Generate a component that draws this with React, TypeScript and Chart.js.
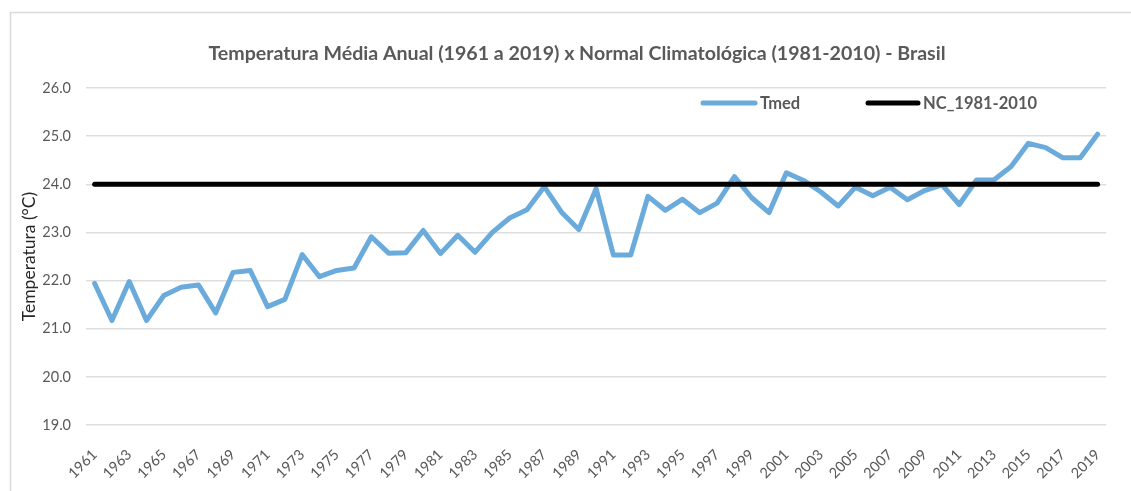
import React, { useEffect, useRef } from "react";
import { Chart, registerables } from "chart.js";

Chart.register(...registerables);

const TITLE = "Temperatura Média Anual (1961 a 2019) x Normal Climatológica (1981-2010) - Brasil";
const Y_TITLE = "Temperatura (°C)";

const YEARS = [
  "1961", "1962", "1963", "1964", "1965", "1966", "1967", "1968", "1969", "1970",
  "1971", "1972", "1973", "1974", "1975", "1976", "1977", "1978", "1979", "1980",
  "1981", "1982", "1983", "1984", "1985", "1986", "1987", "1988", "1989", "1990",
  "1991", "1992", "1993", "1994", "1995", "1996", "1997", "1998", "1999", "2000",
  "2001", "2002", "2003", "2004", "2005", "2006", "2007", "2008", "2009", "2010",
  "2011", "2012", "2013", "2014", "2015", "2016", "2017", "2018", "2019",
];

const TMED = [
  21.94, 21.17, 21.98, 21.17, 21.69, 21.86, 21.91, 21.33, 22.17, 22.21,
  21.46, 21.61, 22.54, 22.08, 22.21, 22.26, 22.91, 22.57, 22.58, 23.04,
  22.56, 22.94, 22.59, 23.0, 23.3, 23.47, 23.95, 23.42, 23.06, 23.91,
  22.53, 22.53, 23.75, 23.46, 23.69, 23.41, 23.61, 24.16, 23.72, 23.41,
  24.24, 24.08, 23.84, 23.55, 23.94, 23.76, 23.94, 23.68, 23.87, 23.99,
  23.58, 24.09, 24.09, 24.37, 24.85, 24.76, 24.55, 24.55, 25.04,
];

const NC_1981_2010 = [
  24.0, 24.0, 24.0, 24.0, 24.0, 24.0, 24.0, 24.0, 24.0, 24.0,
  24.0, 24.0, 24.0, 24.0, 24.0, 24.0, 24.0, 24.0, 24.0, 24.0,
  24.0, 24.0, 24.0, 24.0, 24.0, 24.0, 24.0, 24.0, 24.0, 24.0,
  24.0, 24.0, 24.0, 24.0, 24.0, 24.0, 24.0, 24.0, 24.0, 24.0,
  24.0, 24.0, 24.0, 24.0, 24.0, 24.0, 24.0, 24.0, 24.0, 24.0,
  24.0, 24.0, 24.0, 24.0, 24.0, 24.0, 24.0, 24.0, 24.0,
];

const SERIES_NAMES = ["Tmed", "NC_1981-2010"];
const Y_MIN = 19.0;
const Y_MAX = 26.0;
const Y_STEP = 1.0;

const FONT = "Lato, 'Open Sans', 'DejaVu Sans', sans-serif";
const BLUE = "#6aabdc";
const TEXT_GRAY = "#595959";

const frameTitleLegend = {
  id: "frameTitleLegend",
  beforeDraw(chart: any) {
    const ctx = chart.ctx;
    ctx.save();
    ctx.fillStyle = "#ffffff";
    ctx.fillRect(0, 0, chart.width, chart.height);
    ctx.strokeStyle = "#d9d9d9";
    ctx.lineWidth = 1.5;
    ctx.strokeRect(10.5, 12.5, chart.width + 20, chart.height + 20);
    ctx.restore();
  },
  afterDraw(chart: any) {
    const ctx = chart.ctx;
    ctx.save();
    ctx.font = `bold 19.6px ${FONT}`;
    ctx.fillStyle = TEXT_GRAY;
    ctx.textAlign = "center";
    ctx.textBaseline = "middle";
    ctx.fillText(TITLE, 577, 54);

    const y = 103;
    const items = [
      { x0: 703, x1: 755, color: BLUE, label: SERIES_NAMES[0] },
      { x0: 868, x1: 918, color: "#000000", label: SERIES_NAMES[1] },
    ];
    ctx.font = `bold 16.5px ${FONT}`;
    ctx.textAlign = "left";
    for (const it of items) {
      ctx.strokeStyle = it.color;
      ctx.lineWidth = 5;
      ctx.lineCap = "round";
      ctx.beginPath();
      ctx.moveTo(it.x0, y);
      ctx.lineTo(it.x1, y);
      ctx.stroke();
      ctx.fillStyle = TEXT_GRAY;
      ctx.fillText(it.label, it.x1 + 5, y + 1);
    }
    ctx.restore();
  },
};

export default function App() {
  const canvasRef = useRef<HTMLCanvasElement | null>(null);

  useEffect(() => {
    if (!canvasRef.current) return;
    const chart = new Chart(canvasRef.current, {
      type: "line",
      data: {
        labels: YEARS,
        datasets: [
          {
            label: SERIES_NAMES[0],
            data: TMED,
            borderColor: BLUE,
            backgroundColor: BLUE,
            borderWidth: 5,
            pointRadius: 0,
            tension: 0,
            borderJoinStyle: "round",
            borderCapStyle: "round",
            order: 1,
          },
          {
            label: SERIES_NAMES[1],
            data: NC_1981_2010,
            borderColor: "#000000",
            backgroundColor: "#000000",
            borderWidth: 5,
            pointRadius: 0,
            tension: 0,
            borderCapStyle: "round",
            order: 0,
          },
        ],
      },
      options: {
        responsive: false,
        maintainAspectRatio: false,
        animation: false,
        layout: { padding: { left: 0, right: 14, top: 88, bottom: 0 } },
        plugins: {
          legend: { display: false },
          tooltip: { enabled: false },
          title: { display: false },
        },
        scales: {
          x: {
            offset: true,
            grid: { display: false, drawTicks: false },
            border: { display: false },
            ticks: {
              autoSkip: false,
              minRotation: 45,
              maxRotation: 45,
              padding: 21,
              color: TEXT_GRAY,
              font: { family: FONT, size: 14.5 },
              callback: (_v: any, i: number) => (i % 2 === 0 ? YEARS[i] : ""),
            },
            afterFit: (scale: any) => {
              scale.height = 66;
            },
          },
          y: {
            min: Y_MIN,
            max: Y_MAX,
            grid: { color: "#dedede", lineWidth: 1.5, drawTicks: false },
            border: { display: false },
            ticks: {
              stepSize: Y_STEP,
              padding: 15,
              color: TEXT_GRAY,
              font: { family: FONT, size: 14.5 },
              callback: (v: any) => Number(v).toFixed(1),
            },
            title: {
              display: true,
              text: Y_TITLE,
              color: "#262626",
              font: { family: FONT, size: 17.5 },
              padding: { top: 19, bottom: 0 },
            },
            afterFit: (scale: any) => {
              scale.width = 86;
            },
          },
        },
      },
      plugins: [frameTitleLegend],
    });
    return () => chart.destroy();
  }, []);

  return (
    <div style={{ position: "fixed", left: 0, top: 0, width: 1131, height: 491 }}>
      <canvas ref={canvasRef} width={1131} height={491} style={{ display: "block" }} />
    </div>
  );
}
